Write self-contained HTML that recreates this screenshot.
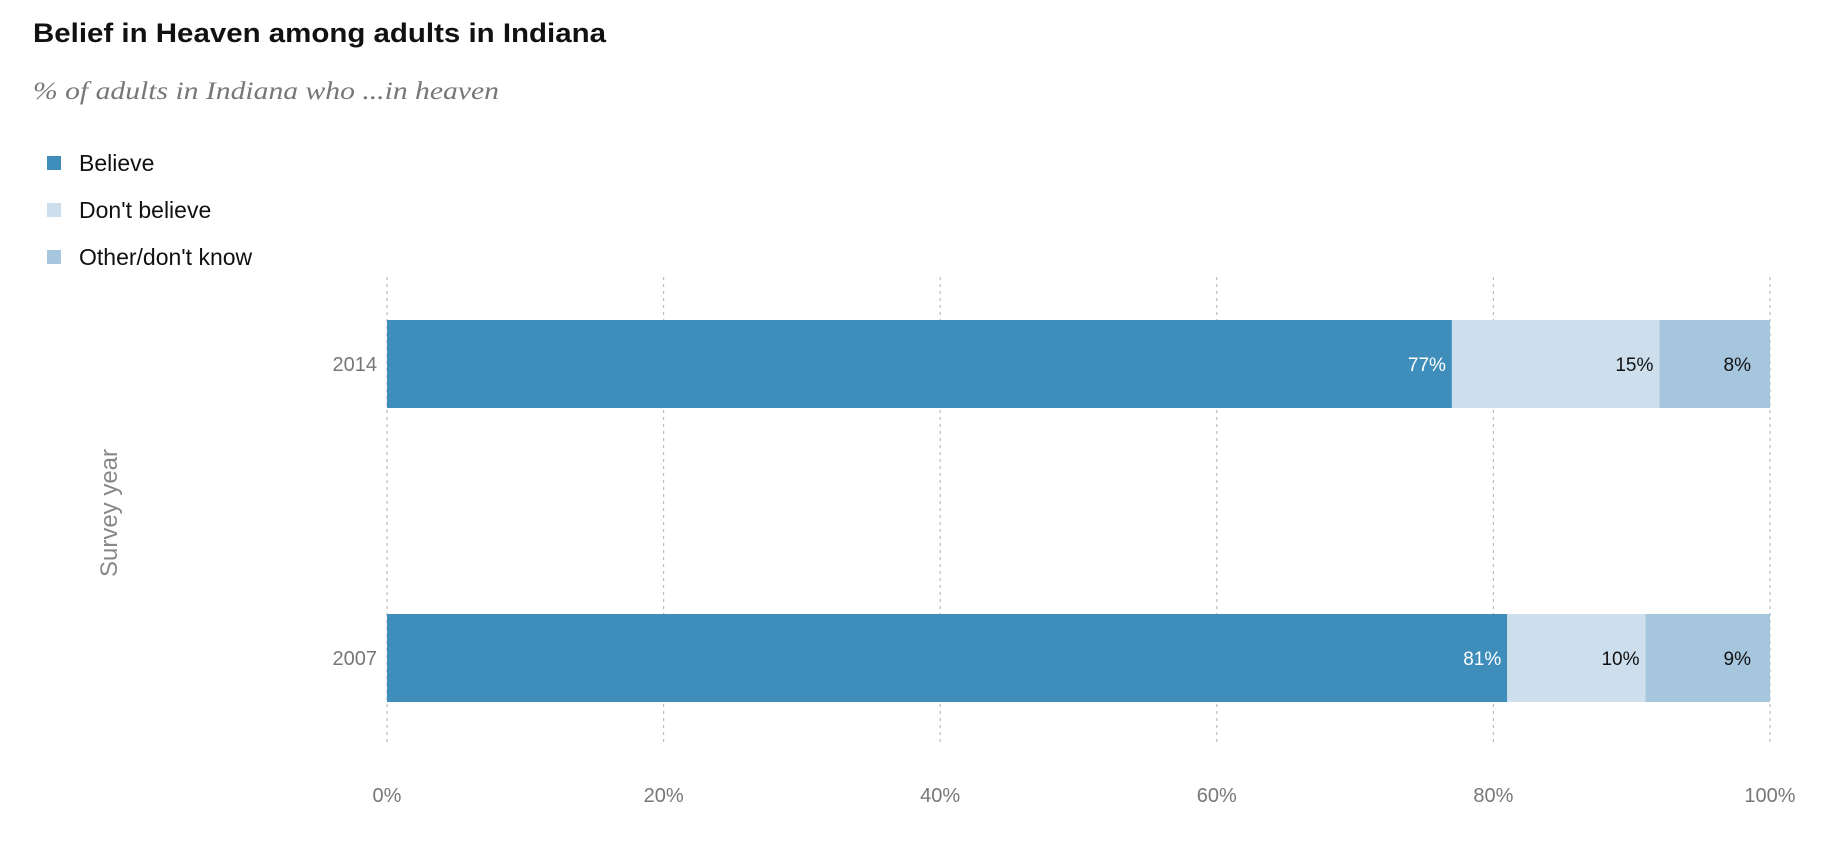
<!DOCTYPE html>
<html><head><meta charset="utf-8"><style>
body{margin:0;background:#fff;width:1828px;height:852px;overflow:hidden;font-family:"Liberation Sans",sans-serif}
</style></head><body>
<svg id="chart" width="1828" height="852" xmlns="http://www.w3.org/2000/svg">
<text x="33" y="42" font-size="27" font-weight="bold" fill="#111" textLength="573" lengthAdjust="spacingAndGlyphs">Belief in Heaven among adults in Indiana</text>
<text x="33" y="99" font-size="25" font-style="italic" font-family="Liberation Serif, serif" fill="#777" textLength="466" lengthAdjust="spacingAndGlyphs">% of adults in Indiana who ...in heaven</text>
<g id="legend"></g>
<g id="grid"></g>
<g id="bars"></g>
<text transform="translate(117,513) rotate(-90)" text-anchor="middle" font-size="24" fill="#888">Survey year</text>
</svg>
<script>
const years = ["2014", "2007"];
const seriesNames = ["Believe", "Don't believe", "Other/don't know"];
const believe = [77, 81];
const dontBelieve = [15, 10];
const other = [8, 9];
const tickValues = [0, 20, 40, 60, 80, 100];
const tickLabels = ["0%", "20%", "40%", "60%", "80%", "100%"];

const NS = "http://www.w3.org/2000/svg";
const colors = ["#3f8dbb", "#cddeec", "#a6c6de"];
const textColors = ["#fff", "#111", "#111"];
const x0 = 387, x1 = 1770;
const xScale = v => x0 + (x1 - x0) * v / 100;
const rowCenters = [364, 658];
const yScale = i => rowCenters[i];
const barH = 88;
function mk(tag, attrs, parent) {
  const e = document.createElementNS(NS, tag);
  for (const k in attrs) e.setAttribute(k, attrs[k]);
  parent.appendChild(e);
  return e;
}
const legend = document.getElementById("legend");
seriesNames.forEach((n, i) => {
  const y = 163 + i * 47;
  const r = mk("rect", {x: 47, y: y - 7, width: 14, height: 14, fill: colors[i]}, legend);
  
  
  const t = mk("text", {x: 79, y: y + 8, "font-size": 23, fill: "#111"}, legend);
  t.textContent = n;
  
  
});
const grid = document.getElementById("grid");
tickValues.forEach((v, i) => {
  const x = xScale(v);
  const l = mk("line", {x1: x, x2: x, y1: 277, y2: 746, stroke: "#bbb", "stroke-width": 1.2, "stroke-dasharray": "3,4"}, grid);
  
  
  const t = mk("text", {x: x, y: 802, "text-anchor": "middle", "font-size": 20, fill: "#777"}, grid);
  t.textContent = tickLabels[i];
  
  
});
const bars = document.getElementById("bars");
const series = [believe, dontBelieve, other];
years.forEach((yr, i) => {
  const cy = yScale(i);
  const yl = mk("text", {x: 377, y: cy + 7, "text-anchor": "end", "font-size": 20, fill: "#777"}, bars);
  yl.textContent = yr;
  
  
  let acc = 0;
  series.forEach((s, j) => {
    const v = s[i];
    const xa = xScale(acc), xb = xScale(acc + v);
    const r = mk("rect", {x: xa, y: cy - barH / 2, width: xb - xa, height: barH, fill: colors[j]}, bars);
    
    
    const pad = j === 2 ? 19 : 6;
    const t = mk("text", {x: xb - pad, y: cy + 7, "text-anchor": "end", "font-size": 19, fill: textColors[j]}, bars);
    t.textContent = v + "%";
    
    
    acc += v;
  });
});
</script>
</body></html>
